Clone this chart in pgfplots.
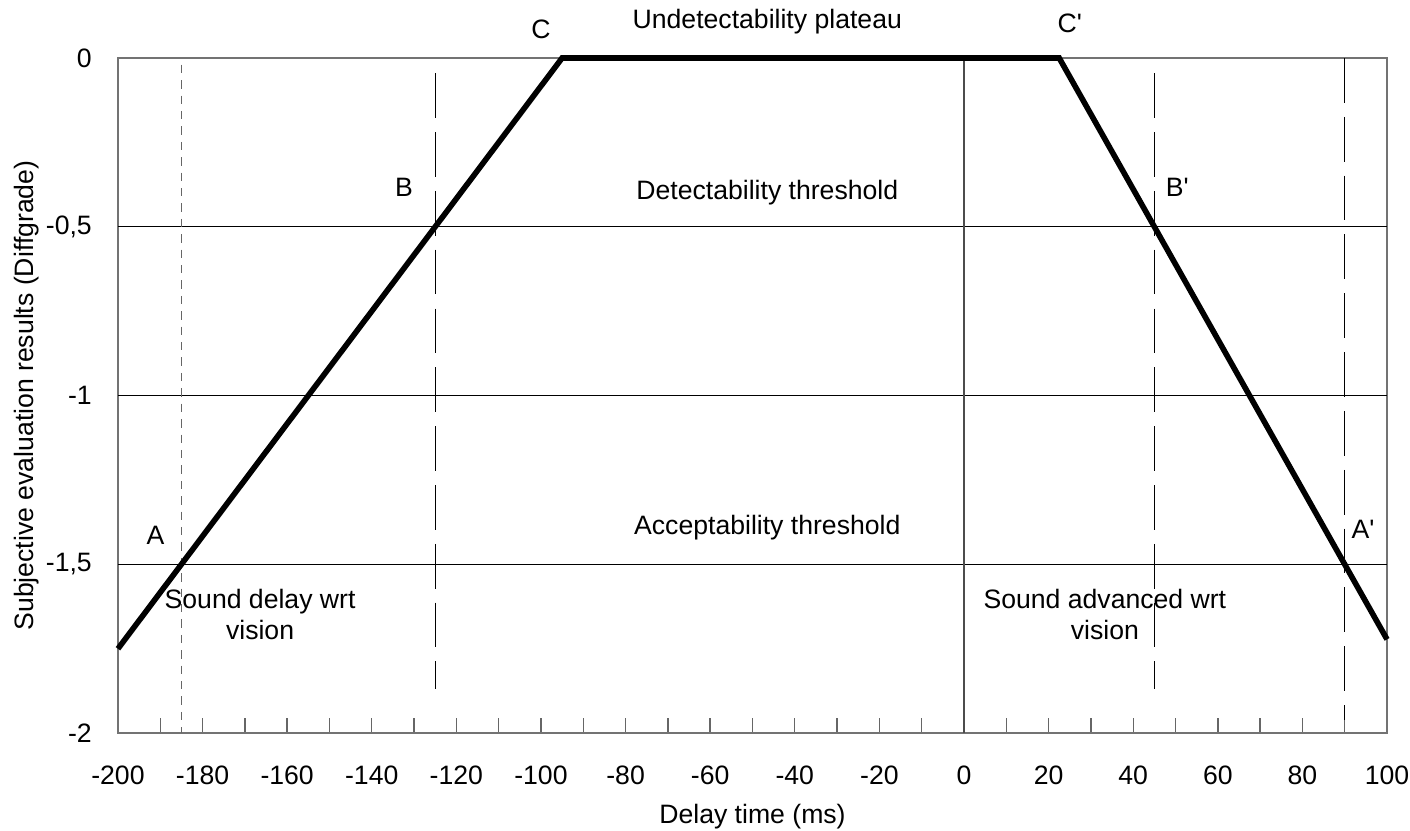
\documentclass[border=0pt]{standalone}
\usepackage{fontspec}
\setmainfont{Liberation Sans}
\usepackage{pgfplots}
\pgfplotsset{compat=1.18}

\begin{document}
\begin{tikzpicture}[every node/.append style={font=\fontsize{9.5}{11}\selectfont}]
\begin{axis}[
  scale only axis,
  width=453pt, height=241pt,
  xmin=-200, xmax=100,
  ymin=-2, ymax=0,
  axis line style={black!55, line width=0.5pt},
  xtick={-200,-180,...,100},
  xticklabels={-200,-180,-160,-140,-120,-100,-80,-60,-40,-20,0,20,40,60,80,100},
  minor xtick={-190,-170,...,90},
  ytick={-2,-1.5,-1,-0.5,0},
  yticklabels={-2,{-1,5},-1,{-0,5},0},
  xtick pos=bottom,
  tick align=inside,
  major tick length=5.4pt,
  minor tick length=5.4pt,
  ytick style={draw=none},
  xtick style={black!60, line width=0.5pt},
  tick label style={font=\fontsize{9.5}{11}\selectfont},
  xticklabel style={yshift=-8.2pt},
  yticklabel style={xshift=-5.8pt},
  label style={font=\fontsize{9.5}{11}\selectfont},
  xlabel={Delay time (ms)},
  ylabel={Subjective evaluation results (Diffgrade)},
  xlabel style={yshift=0pt},
  ylabel style={yshift=-4.5pt},
  clip=false,
]
% threshold lines
\addplot[black, line width=0.5pt] coordinates {(-200,-0.5) (100,-0.5)};
\addplot[black, line width=0.5pt] coordinates {(-200,-1) (100,-1)};
\addplot[black, line width=0.5pt] coordinates {(-200,-1.5) (100,-1.5)};
\addplot[black!70, line width=0.5pt] coordinates {(0,-2) (0,0)};
% vertical markers
\addplot[black!60, line width=0.6pt, dash pattern=on 3pt off 2.5pt] coordinates {(-185,-0.02) (-185,-2)};
\addplot[black, line width=0.5pt, dash pattern=on 16pt off 5pt] coordinates {(-125,-0.045) (-125,-1.87)};
\addplot[black, line width=0.5pt, dash pattern=on 16pt off 5pt] coordinates {(45,-0.045) (45,-1.87)};
\addplot[black, line width=0.5pt, dash pattern=on 16pt off 5pt] coordinates {(90,0) (90,-1.96)};
% evaluation curve
\addplot[black, line width=2pt, line join=miter] coordinates {
  (-200,-1.75) (-95,0) (22.5,0) (100,-1.7222)
};
% annotations
\node at (axis cs:-100,0.086) {C};
\node at (axis cs:-46.5,0.107) {Undetectability plateau};
\node at (axis cs:25,0.104) {C\textquotesingle};
\node at (axis cs:-132.4,-0.382) {B};
\node at (axis cs:-46.5,-0.40) {Detectability threshold};
\node at (axis cs:50.4,-0.382) {B\textquotesingle};
\node at (axis cs:-191.1,-1.414) {A};
\node at (axis cs:-46.5,-1.39) {Acceptability threshold};
\node at (axis cs:94.3,-1.396) {A\textquotesingle};
\node[align=center] at (axis cs:-166.4,-1.648) {Sound delay wrt\\vision};
\node[align=center] at (axis cs:33.3,-1.648) {Sound advanced wrt\\vision};
\end{axis}
\pgfresetboundingbox
\path ([shift={(-42.1pt,-34.6pt)}]current axis.south west) rectangle ([shift={(8.2pt,20.7pt)}]current axis.north east);
\end{tikzpicture}
\end{document}
